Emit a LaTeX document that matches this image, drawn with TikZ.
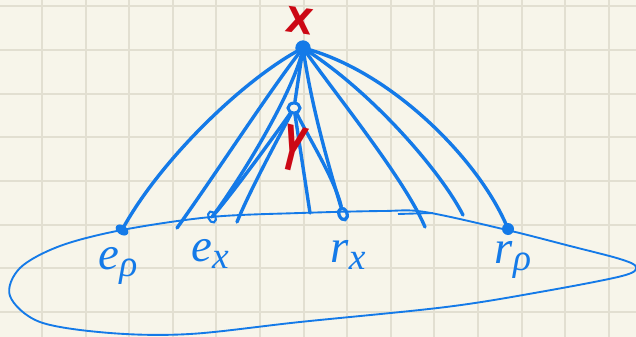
\documentclass[tikz,border=0pt]{standalone}
\usepackage{fontspec}
\usepackage{graphicx}
\usetikzlibrary{shapes.geometric}
\newfontfamily\handf{Liberation Serif}
\newfontfamily\redf{DejaVu Sans}
\definecolor{paper}{RGB}{247,245,234}
\definecolor{gridc}{RGB}{226,223,209}
\definecolor{ink}{RGB}{20,122,232}
\definecolor{redink}{RGB}{204,8,20}
\newcommand{\lbl}[2]{{\itshape #1}\raisebox{-0.35ex}{\fontsize{32}{34}\selectfont\itshape #2}}
\begin{document}
\begin{tikzpicture}[x=0.03cm,y=-0.03cm,
  edge/.style={ink, line width=2.9pt, line cap=round},
  rim/.style={ink, line width=1.6pt},
  dotf/.style={fill=ink, inner sep=0pt},
  doto/.style={ellipse, draw=ink, inner sep=0pt},
  lab/.style={text=ink, inner sep=0pt, font=\handf\fontsize{40}{44}\selectfont},
  redlab/.style={text=redink, inner sep=0pt, font=\redf\bfseries\fontsize{30}{32}\selectfont}]
\fill[paper] (0,0) rectangle (636,337);
\useasboundingbox (0,0) rectangle (636,337);
\clip (0,0) rectangle (636,337);
\foreach \i in {1,...,14} \draw[gridc, line width=1.7pt] ({-1.6+43.6*\i},0) -- ({-1.6+43.6*\i},337);
\foreach \j in {0,...,7} \draw[gridc, line width=1.7pt] (0,{6.3+43.65*\j}) -- (636,{6.3+43.65*\j});

% base loop
\draw[rim] plot[smooth cycle, tension=0.55] coordinates {(122,230) (211,217) (300,213) (383,211) (425,212) (507,230) (570,246) (620,259) (636,267) (622,276) (540,292) (446,307) (300,322) (190,334) (110,333) (40,322) (10,296) (20,268) (60,246)};
\draw[rim] (398,214) -- (433,213);

% nodes
\node[circle, dotf, minimum size=0.46cm] (X) at (303,48) {};
\node[doto, line width=2.6pt, minimum width=0.36cm, minimum height=0.3cm] (Y) at (294,108) {};
\node[ellipse, dotf, minimum width=0.42cm, minimum height=0.28cm, rotate=-35] (ep) at (122,230) {};
\node[doto, line width=1.8pt, minimum width=0.22cm, minimum height=0.34cm, rotate=20] (ex) at (212,217) {};
\node[doto, line width=2.8pt, minimum width=0.24cm, minimum height=0.36cm, rotate=20] (rx) at (343,214) {};
\node[circle, dotf, minimum size=0.36cm] (rr) at (508,229) {};

% free ends
\coordinate (b) at (177,228);
\coordinate (e) at (237,222);
\coordinate (g) at (310,213);
\coordinate (i) at (425,227);
\coordinate (j) at (463,215);

% edges from X
\draw[edge] (X.center) .. controls (245,78) and (160,160) .. (ep.center);
\draw[edge] (X.center) .. controls (270,90) and (215,175) .. (b);
\draw[edge] (X.center) .. controls (295,90) and (240,180) .. (ex.center);
\draw[edge] (X.center) -- (Y);
\draw[edge] (X.center) .. controls (312,110) and (330,170) .. (rx);
\draw[edge] (X.center) .. controls (340,100) and (405,180) .. (i);
\draw[edge] (X.center) .. controls (370,90) and (440,170) .. (j);
\draw[edge] (X.center) .. controls (390,70) and (480,160) .. (rr.center);
% edges from Y
\draw[edge] (Y) .. controls (275,135) and (235,190) .. (ex);
\draw[edge] (Y) .. controls (280,135) and (250,190) .. (e);
\draw[edge] (Y) -- (g);
\draw[edge] (Y) .. controls (310,140) and (335,180) .. (rx);

% labels
\node[redlab, rotate=-8] (lX) at (300,21) {X};
\node[redlab, rotate=-14] (lY) at (293,148) {\scalebox{0.85}[1.75]{Y}};
\node[lab] (lep) at (118,266) {\lbl{e}{ρ}};
\node[lab] (lex) at (210,254) {\lbl{e}{x}};
\node[lab] (lrx) at (348,255) {\lbl{r}{x}};
\node[lab] (lrr) at (513,260) {\lbl{r}{ρ}};
\end{tikzpicture}
\end{document}
